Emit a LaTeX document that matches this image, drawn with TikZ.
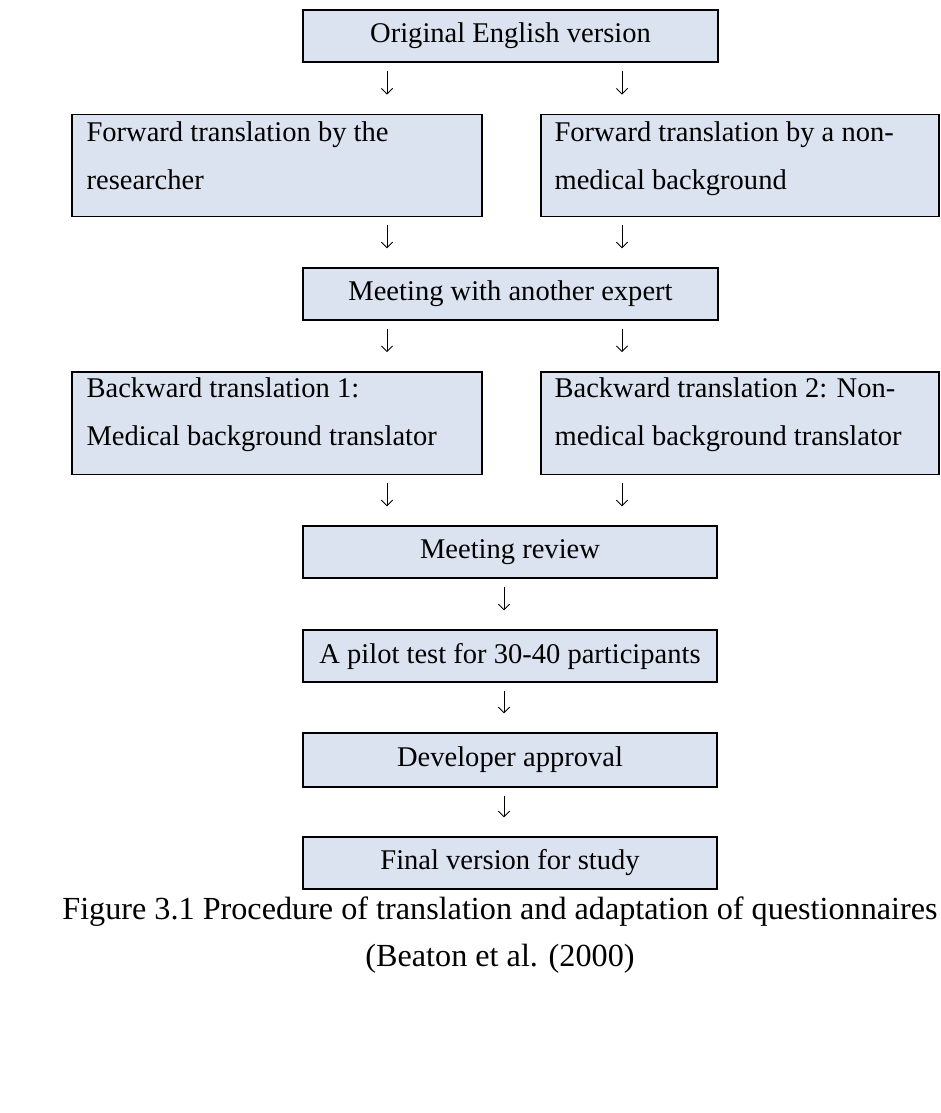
\documentclass[tikz,border=0pt]{standalone}
\usepackage{fontspec}
\setmainfont{Liberation Serif}
\usepackage{tikz}
\usetikzlibrary{arrows.meta}
\usetikzlibrary{positioning}
\definecolor{boxblue}{RGB}{220,227,240}
\tikzset{
	stage/.style={draw=black,line width=1pt,fill=boxblue,inner sep=0pt,font=\fontsize{20.3}{24}\selectfont},
	oneline/.style={stage,minimum width=10.375cm,minimum height=1.3cm},
	twoline/.style={stage,minimum height=2.56cm},
	line/.style={inner sep=0pt,anchor=base west,font=\fontsize{20.3}{24}\selectfont},
	down/.style={black,line width=0.6pt,-{Straight Barb[length=4pt,width=8pt]},shorten <=0.2cm,shorten >=0.475cm},
	caption/.style={inner sep=0pt,font=\fontsize{22.9}{27}\selectfont}
}
\begin{document}
\begin{tikzpicture}
	\useasboundingbox (0,0) rectangle (23.525,-27.825);
	\coordinate (colL) at (9.675,0);
	\coordinate (colR) at (15.55,0);
	\coordinate (colM) at (12.6,0);
	\node[oneline] (orig) at (12.7625,-0.9) {Original English version};
	\node[twoline,minimum width=10.25cm] (fwdL) at (6.925,-4.1375) {};
	\node[twoline,minimum width=9.95cm] (fwdR) at (18.5,-4.1375) {};
	\node[line] (fwdLa) at ([xshift=0.375cm,yshift=-0.7cm]fwdL.north west) {Forward translation by the};
	\node[line,below=1.2cm of fwdLa.base west,anchor=base west] (fwdLb) {researcher};
	\node[line] (fwdRa) at ([xshift=0.35cm,yshift=-0.7cm]fwdR.north west) {Forward translation by a non-};
	\node[line,below=1.2cm of fwdRa.base west,anchor=base west] (fwdRb) {medical background};
	\node[oneline] (meet) at (12.7625,-7.35) {Meeting with another expert};
	\node[twoline,minimum width=10.25cm] (backL) at (6.925,-10.575) {};
	\node[twoline,minimum width=9.95cm] (backR) at (18.5,-10.575) {};
	\node[line] (backLa) at ([xshift=0.375cm,yshift=-0.67cm]backL.north west) {Backward translation 1:};
	\node[line,below=1.2cm of backLa.base west,anchor=base west] (backLb) {Medical background translator};
	\node[line] (backRa) at ([xshift=0.35cm,yshift=-0.67cm]backR.north west) {Backward translation 2: Non-};
	\node[line,below=1.2cm of backRa.base west,anchor=base west] (backRb) {medical background translator};
	\node[oneline,minimum width=10.35cm] (review) at (12.75,-13.8) {Meeting review};
	\node[oneline,minimum width=10.35cm] (pilot) at (12.75,-16.4) {A pilot test for 30-40 participants};
	\node[oneline,minimum width=10.35cm,minimum height=1.35cm] (dev) at (12.75,-19.0) {Developer approval};
	\node[oneline,minimum width=10.35cm] (final) at (12.75,-21.575) {Final version for study};
	\draw[down] (orig.south -| colL) -- (fwdL.north -| colL);
	\draw[down] (orig.south -| colR) -- (fwdR.north -| colR);
	\draw[down] (fwdL.south -| colL) -- (meet.north -| colL);
	\draw[down] (fwdR.south -| colR) -- (meet.north -| colR);
	\draw[down] (meet.south -| colL) -- (backL.north -| colL);
	\draw[down] (meet.south -| colR) -- (backR.north -| colR);
	\draw[down] (backL.south -| colL) -- (review.north -| colL);
	\draw[down] (backR.south -| colR) -- (review.north -| colR);
	\draw[down] (review.south -| colM) -- (pilot.north -| colM);
	\draw[down] (pilot.south -| colM) -- (dev.north -| colM);
	\draw[down] (dev.south -| colM) -- (final.north -| colM);
	\node[caption] (cap1) at (12.5,-22.78) {Figure 3.1 Procedure of translation and adaptation of questionnaires};
	\node[caption,below=0.45cm of cap1] (cap2) {(Beaton et al. (2000)};
\end{tikzpicture}
\end{document}
